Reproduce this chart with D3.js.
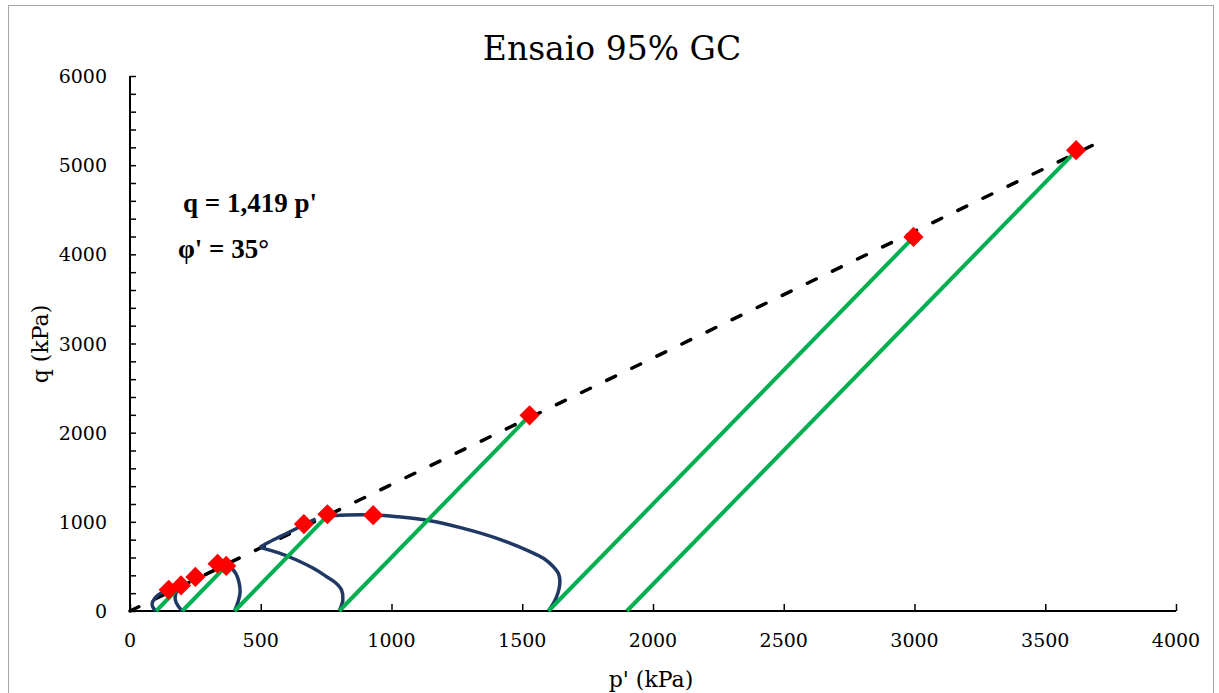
<!DOCTYPE html>
<html><head><meta charset="utf-8">
<script src="https://cdn.jsdelivr.net/npm/d3@7"></script>
<style>body{margin:0;background:#fff}svg{display:block}</style>
</head><body>
<svg id="c" width="1219" height="693"></svg>
<script>
// ---- data ----
const xTicks = [0, 500, 1000, 1500, 2000, 2500, 3000, 3500, 4000];
const yTicks = [0, 1000, 2000, 3000, 4000, 5000, 6000];
const failureLine = [[0, 0], [3690, 5236]];           // q = 1,419 p'
const peakPoints = [[148, 238], [195, 287], [250, 382], [335, 530], [368, 505],
                    [665, 975], [755, 1085], [930, 1075], [1528, 2195], [2996, 4195], [3618, 5168]];
const totalStressPaths = [
  [[100, 0], [195, 287]],
  [[200, 0], [368, 505]],
  [[400, 0], [757, 1075]],
  [[800, 0], [1528, 2190]],
  [[1600, 0], [2996, 4190]],
  [[1900, 0], [3618, 5160]]
];
const effectivePaths = [
  [[100, 0], [87, 45], [85, 90], [93, 135], [108, 180], [128, 215], [148, 238]],
  [[200, 0], [183, 60], [173, 130], [175, 195], [183, 245], [195, 287]],
  [[400, 0], [413, 100], [421, 215], [417, 320], [405, 420], [386, 485], [368, 505]],
  [[800, 0], [814, 120], [809, 235], [785, 320], [752, 385], [701, 479], [637, 572], [574, 647], [510, 703], [497, 716]],
  [[497, 716], [523, 759], [574, 834], [625, 908], [668, 972], [710, 1030]],
  [[1600, 0], [1630, 150], [1644, 329], [1638, 423], [1619, 497], [1581, 591], [1530, 666], [1403, 815],
   [1275, 927], [1147, 1013], [1020, 1058], [930, 1077], [829, 1077], [780, 1070], [757, 1075]]
];
const titleText = "Ensaio 95% GC";
const xLabel = "p' (kPa)";
const yLabel = "q (kPa)";
const annot1 = "q = 1,419 p'";
const annot2 = "φ' = 35°";

// ---- chart ----
const svg = d3.select("#c");
const X0 = 130, X1 = 1176, Y0 = 611, Y1 = 76;
const x = d3.scaleLinear().domain([0, 4000]).range([X0, X1]);
const y = d3.scaleLinear().domain([0, 6000]).range([Y0, Y1]);
const font = "'DejaVu Serif', serif";

svg.append("rect").attr("x", 8.5).attr("y", 5.5).attr("width", 1205).attr("height", 700)
  .attr("fill", "#fff").attr("stroke", "#a6a6a6").attr("stroke-width", 1);

svg.append("text").attr("x", 612).attr("y", 60).attr("text-anchor", "middle")
  .attr("font-family", font).attr("font-size", 33).attr("fill", "#000").text(titleText);

// minor ticks
const gx = svg.append("g").attr("transform", `translate(0,${Y0})`);
gx.call(d3.axisBottom(x).tickValues(d3.range(0, 4001, 100)).tickSize(-5).tickFormat(""))
  .call(g => g.select(".domain").remove());
gx.call(d3.axisBottom(x).tickValues(xTicks).tickSize(-7).tickFormat(""))
  .call(g => g.select(".domain").remove());
gx.selectAll("line").attr("stroke", "#000").attr("stroke-width", 1.5);
svg.append("g").selectAll("text").data(xTicks).join("text")
  .attr("x", d => x(d)).attr("y", 647).attr("text-anchor", "middle")
  .attr("font-family", font).attr("font-size", 19).text(d => d);

const gy = svg.append("g").attr("transform", `translate(${X0},0)`);
gy.call(d3.axisLeft(y).tickValues(d3.range(0, 6001, 200)).tickSize(-6).tickFormat(""))
  .call(g => g.select(".domain").remove());
gy.selectAll("line").attr("stroke", "#000").attr("stroke-width", 1.5);
svg.append("g").selectAll("text").data(yTicks).join("text")
  .attr("x", 107).attr("y", d => y(d) + 7).attr("text-anchor", "end")
  .attr("font-family", font).attr("font-size", 19).text(d => d);

svg.append("line").attr("x1", X0).attr("x2", X1).attr("y1", Y0).attr("y2", Y0)
  .attr("stroke", "#000").attr("stroke-width", 2);
svg.append("line").attr("x1", X0).attr("x2", X0).attr("y1", Y0).attr("y2", Y1)
  .attr("stroke", "#000").attr("stroke-width", 2);

svg.append("text").attr("x", 651).attr("y", 687).attr("text-anchor", "middle")
  .attr("font-family", font).attr("font-size", 22).text(xLabel);
svg.append("text").attr("transform", `translate(48,344) rotate(-90)`).attr("text-anchor", "middle")
  .attr("font-family", font).attr("font-size", 22).text(yLabel);

const line = d3.line().x(d => x(d[0])).y(d => y(d[1]));
const curve = d3.line().x(d => x(d[0])).y(d => y(d[1])).curve(d3.curveCatmullRom.alpha(0.5));

svg.append("path").attr("d", line(failureLine)).attr("fill", "none")
  .attr("stroke", "#000").attr("stroke-width", 3.5).attr("stroke-linecap", "round")
  .attr("stroke-dasharray", "9.8,18.07");

svg.append("g").selectAll("path").data(effectivePaths).join("path")
  .attr("d", curve).attr("fill", "none").attr("stroke", "#1f3864").attr("stroke-width", 3.5)
  .attr("stroke-linejoin", "round");

svg.append("g").selectAll("path").data(totalStressPaths).join("path")
  .attr("d", line).attr("fill", "none").attr("stroke", "#00b050").attr("stroke-width", 4);

const sym = d3.symbol().type(d3.symbolDiamond2).size(260);
svg.append("g").selectAll("path").data(peakPoints).join("path")
  .attr("transform", d => `translate(${x(d[0])},${y(d[1])})`)
  .attr("d", sym).attr("fill", "#ff0000");

svg.append("text").attr("x", 183).attr("y", 212).attr("font-family", "'Liberation Serif', serif")
  .attr("font-weight", "bold").attr("font-size", 27).text(annot1);
svg.append("text").attr("x", 178).attr("y", 258).attr("font-family", "'Liberation Serif', serif")
  .attr("font-weight", "bold").attr("font-size", 27).text(annot2);
</script>
</body></html>
